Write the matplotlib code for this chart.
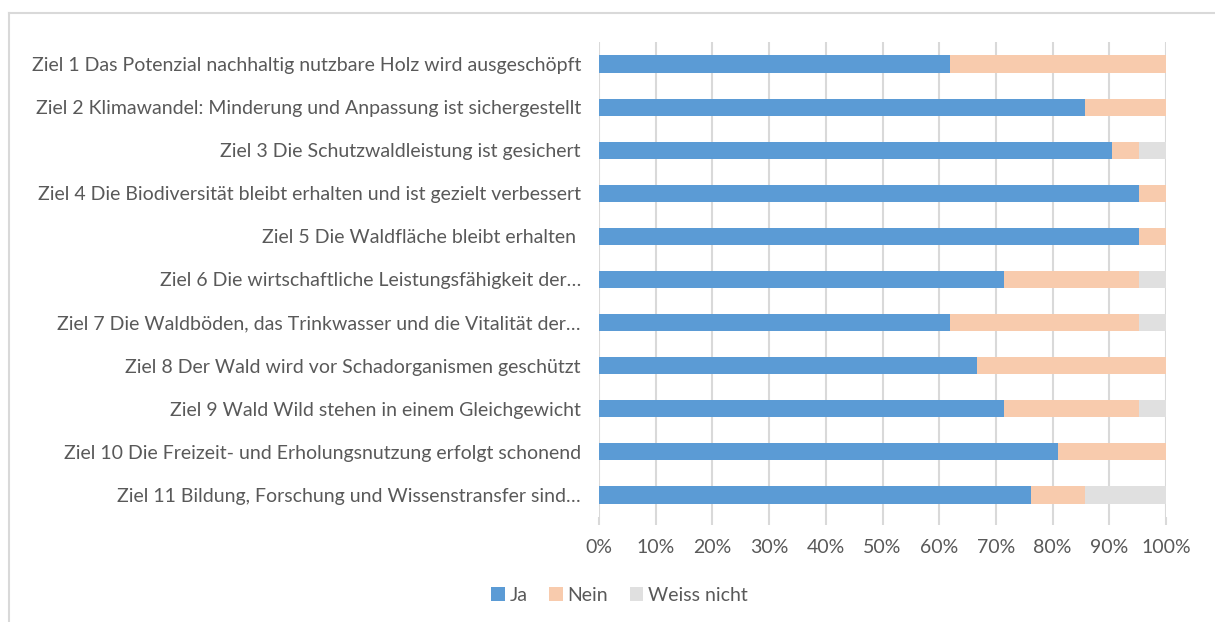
import matplotlib
matplotlib.use('Agg')
import matplotlib.pyplot as plt
from matplotlib.patches import Patch
from matplotlib.lines import Line2D
import numpy as np

plt.rcParams['font.family'] = ['Lato', 'DejaVu Sans']

labels = [
    'Ziel 1 Das Potenzial nachhaltig nutzbare Holz wird ausgeschöpft',
    'Ziel 2 Klimawandel: Minderung und Anpassung ist sichergestellt',
    'Ziel 3 Die Schutzwaldleistung ist gesichert',
    'Ziel 4 Die Biodiversität bleibt erhalten und ist gezielt verbessert',
    'Ziel 5 Die Waldfläche bleibt erhalten ',
    'Ziel 6 Die wirtschaftliche Leistungsfähigkeit der…',
    'Ziel 7 Die Waldböden, das Trinkwasser und die Vitalität der…',
    'Ziel 8 Der Wald wird vor Schadorganismen geschützt',
    'Ziel 9 Wald Wild stehen in einem Gleichgewicht',
    'Ziel 10 Die Freizeit- und Erholungsnutzung erfolgt schonend',
    'Ziel 11 Bildung, Forschung und Wissenstransfer sind…',
]
ja = [61.9, 85.7, 90.5, 95.2, 95.2, 71.4, 61.9, 66.7, 71.4, 81.0, 76.2]
nein = [38.1, 14.3, 4.8, 4.8, 4.8, 23.8, 33.3, 33.3, 23.8, 19.0, 9.5]
weiss_nicht = [0, 0, 4.8, 0, 0, 4.8, 4.8, 0, 4.8, 0, 14.3]
series = ['Ja', 'Nein', 'Weiss nicht']
colors = ['#5B9BD5', '#F8CBAD', '#E0E0E0']
txt = '#595959'

fig = plt.figure(figsize=(12.15, 6.22), dpi=100)
ax = fig.add_axes([0.493, 0.1696, 0.4667, 0.7621])

y = np.arange(len(labels))
left = np.zeros(len(labels))
for vals, c in zip([ja, nein, weiss_nicht], colors):
    ax.barh(y, vals, left=left, height=0.4, color=c, zorder=3)
    left += np.array(vals)

ax.set_ylim(len(labels) - 0.5, -0.5)
ax.set_xlim(0, 100)
ax.set_xticks(np.arange(0, 101, 10))
ax.set_xticklabels([f'{v}%' for v in range(0, 101, 10)])
ax.set_yticks(y)
ax.set_yticklabels(labels)
ax.grid(axis='x', color='#D9D9D9', linewidth=1.5, zorder=0)
for s in ax.spines.values():
    s.set_visible(False)
ax.tick_params(axis='y', length=0, pad=13, labelsize=14, labelcolor=txt)
ax.tick_params(axis='x', length=6, width=1.5, color='#D9D9D9', pad=10,
               labelsize=14, labelcolor=txt)

handles = [Patch(facecolor=c, edgecolor='none') for c in colors]
fig.legend(handles, series, loc='center', bbox_to_anchor=(0.51, 0.043), ncol=3,
           frameon=False, fontsize=14, labelcolor=txt, handlelength=0.7,
           handleheight=0.7, handletextpad=0.25, columnspacing=1.1)

# chart area border (left and top visible)
fig.add_artist(Line2D([9 / 1215, 9 / 1215], [0, 1 - 13 / 622], color='#D9D9D9', lw=1.5))
fig.add_artist(Line2D([9 / 1215, 1], [1 - 13 / 622, 1 - 13 / 622], color='#D9D9D9', lw=1.5))

fig.savefig('out.png', dpi=100)
